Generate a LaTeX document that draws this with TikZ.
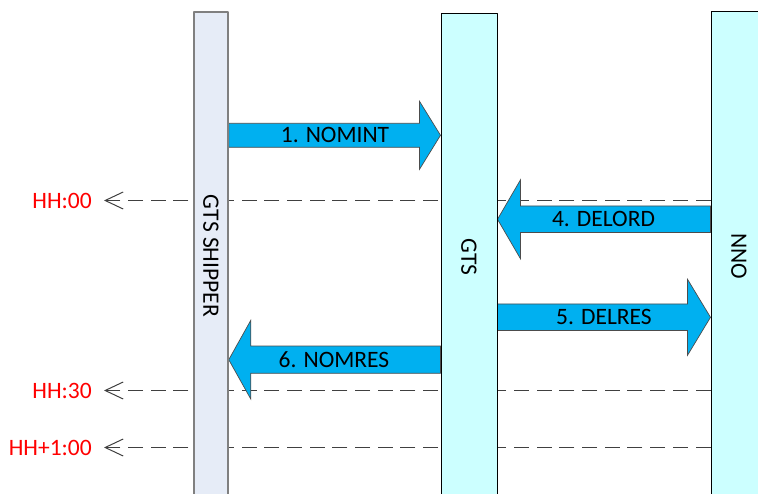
\documentclass[tikz,border=0pt]{standalone}
\usepackage{fontspec}
\setmainfont{Carlito}
\usetikzlibrary{arrows.meta,backgrounds}
\definecolor{shipperfill}{HTML}{E6ECF7}
\definecolor{lanefill}{HTML}{CCFFFF}
\definecolor{msgfill}{HTML}{00B0F0}
\definecolor{timered}{HTML}{FF0000}
\begin{document}
\begin{tikzpicture}[>=latex,line join=bevel,
  every node/.style={font=\fontsize{23.5bp}{28bp}\selectfont},
  lane/.style={draw,rectangle,inner sep=0pt,minimum width=56bp},
  timelabel/.style={anchor=east,text=timered,inner xsep=12bp,inner ysep=0pt},
  timeline/.style={draw=black!75,line width=1bp,dash pattern=on 15bp off 7.7bp,-{Straight Barb[length=18bp,width=17bp]}},
  msgright/.style n args={3}{fill=msgfill,draw=black!70,line width=0.7bp,
    to path={([yshift=#1]\tikztostart) -- ([xshift=-#3,yshift=#1]\tikztotarget)
      -- ([xshift=-#3,yshift=#2]\tikztotarget) -- (\tikztotarget)
      -- ([xshift=-#3,yshift=-#2]\tikztotarget) -- ([xshift=-#3,yshift=-#1]\tikztotarget)
      -- ([yshift=-#1]\tikztostart) -- cycle}},
  msgleft/.style n args={3}{fill=msgfill,draw=black!70,line width=0.7bp,
    to path={([yshift=#1]\tikztostart) -- ([xshift=#3,yshift=#1]\tikztotarget)
      -- ([xshift=#3,yshift=#2]\tikztotarget) -- (\tikztotarget)
      -- ([xshift=#3,yshift=-#2]\tikztotarget) -- ([xshift=#3,yshift=-#1]\tikztotarget)
      -- ([yshift=-#1]\tikztostart) -- cycle}},
]
\useasboundingbox (0bp,0bp) rectangle (758bp,494bp);
\clip (0bp,0bp) rectangle (758bp,494bp);
%%
\node (node_shipper) at (211.0bp,238.0bp) [lane,fill=shipperfill,draw=black!50,line width=1.5bp,minimum width=34bp,minimum height=488bp] {\rotatebox{-90}{GTS SHIPPER}};
  \node (node_gts) at (469.0bp,237.0bp) [lane,fill=lanefill,line width=1bp,minimum height=486bp] {\rotatebox{-90}{GTS}};
  \node (node_nno) at (739.0bp,238.0bp) [lane,fill=lanefill,line width=1bp,minimum height=488bp] {\rotatebox{-90}{NNO}};
%
\node (node_nomint) at (335.0bp,358.7bp) {1. NOMINT};
  \node (node_delord) at (603.5bp,274.7bp) {4. DELORD};
  \node (node_delres) at (604.0bp,176.7bp) {5. DELRES};
  \node (node_nomres) at (334.0bp,134.3bp) {6. NOMRES};
%
\node (node_hh00) at (104.0bp,293.5bp) [timelabel] {HH:00};
  \node (node_hh30) at (104.0bp,103.5bp) [timelabel] {HH:30};
  \node (node_hh100) at (104.0bp,46.5bp) [timelabel] {HH+1:00};
%
\begin{scope}[on background layer]
  \draw [timeline] (node_nno.west |- node_hh00) -- (node_hh00);
  \draw [timeline] (node_nno.west |- node_hh30) -- (node_hh30);
  \draw [timeline] (node_nno.west |- node_hh100) -- (node_hh100);
  \draw [msgright={12bp}{34bp}{21bp}] (node_shipper.east |- node_nomint) to (node_gts.west |- node_nomint);
  \draw [msgleft={13.3bp}{39.5bp}{23bp}] (node_nno.west |- node_delord) to (node_gts.east |- node_delord);
  \draw [msgright={13.3bp}{38bp}{23bp}] (node_gts.east |- node_delres) to (node_nno.west |- node_delres);
  \draw [msgleft={13.6bp}{39.3bp}{22bp}] (node_gts.west |- node_nomres) to (node_shipper.east |- node_nomres);
\end{scope}
%
\end{tikzpicture}
\end{document}
